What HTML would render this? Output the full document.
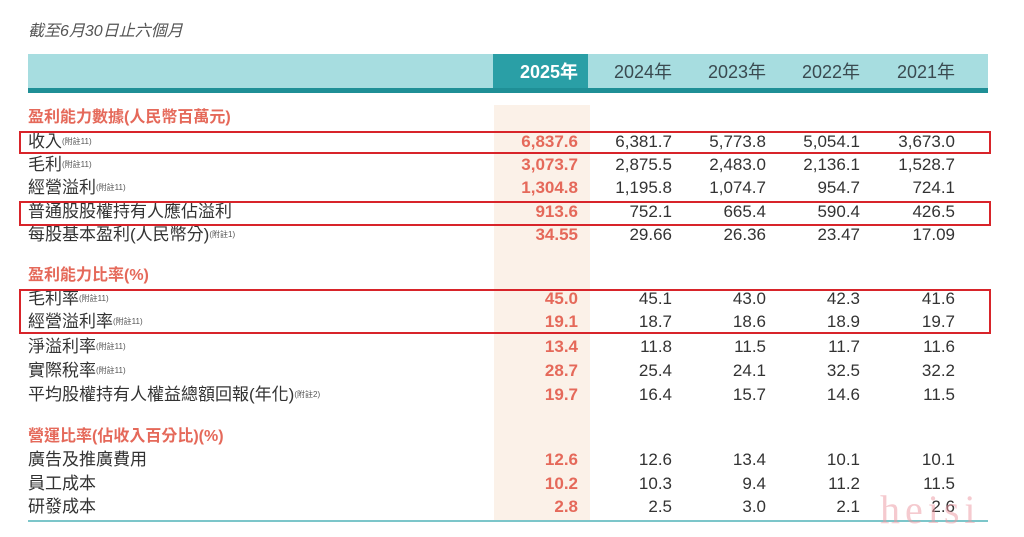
<!DOCTYPE html>
<html><head><meta charset="utf-8"><style>
body{margin:0;width:1024px;height:537px;background:#fff;position:relative;overflow:hidden;font-family:"Liberation Sans","Noto Sans CJK TC",sans-serif;color:#333}
div,span{position:absolute}
.t{font-size:17px;white-space:nowrap;line-height:20px}
.sup{font-size:8px;vertical-align:top;position:relative;color:#555}
.sec{color:#e5695a;font-weight:bold;font-size:16px;line-height:20px;white-space:nowrap}
.n{font-size:17px;width:100px;text-align:right;line-height:20px}
.h{color:#e5695a;font-weight:bold}
.box{border:2px solid #d8242a;box-sizing:border-box}
</style></head><body>
<div class="t" style="left:28px;top:22px;font-style:italic;color:#555;font-size:16px">截至6月30日止六個月</div>
<div style="left:28px;top:54px;width:960px;height:36px;background:#a7dde0"></div>
<div style="left:493px;top:54px;width:95px;height:36px;background:#2a9fa6"></div>
<div style="left:28px;top:88px;width:960px;height:5px;background:#1f8f96"></div>
<div style="left:494px;top:105px;width:96px;height:417px;background:#fbf1e8"></div>
<div style="left:28px;top:520px;width:960px;height:2px;background:#7cc6ca"></div>
<div id="tbl"></div>
<div class="box" style="left:19px;top:131px;width:972px;height:23px"></div>
<div class="box" style="left:19px;top:201px;width:972px;height:25px"></div>
<div class="box" style="left:19px;top:289px;width:972px;height:45px"></div>
<div style="left:880px;top:486px;font-family:'Liberation Serif',serif;font-size:40px;color:rgba(235,150,160,0.5);letter-spacing:5px">heisi</div>
<script>
const years=["2025年","2024年","2023年","2022年","2021年"];
const colRight=[578,672,766,860,955];
const rows=[
["sec","盈利能力數據(人民幣百萬元)",118],
["row","收入","附註11",142,["6,837.6","6,381.7","5,773.8","5,054.1","3,673.0"]],
["row","毛利","附註11",165,["3,073.7","2,875.5","2,483.0","2,136.1","1,528.7"]],
["row","經營溢利","附註11",188,["1,304.8","1,195.8","1,074.7","954.7","724.1"]],
["row","普通股股權持有人應佔溢利","",212,["913.6","752.1","665.4","590.4","426.5"]],
["row","每股基本盈利(人民幣分)","附註1",235,["34.55","29.66","26.36","23.47","17.09"]],
["sec","盈利能力比率(%)",276],
["row","毛利率","附註11",299,["45.0","45.1","43.0","42.3","41.6"]],
["row","經營溢利率","附註11",322,["19.1","18.7","18.6","18.9","19.7"]],
["row","淨溢利率","附註11",347,["13.4","11.8","11.5","11.7","11.6"]],
["row","實際稅率","附註11",371,["28.7","25.4","24.1","32.5","32.2"]],
["row","平均股權持有人權益總額回報(年化)","附註2",395,["19.7","16.4","15.7","14.6","11.5"]],
["sec","營運比率(佔收入百分比)(%)",437],
["row","廣告及推廣費用","",460,["12.6","12.6","13.4","10.1","10.1"]],
["row","員工成本","",484,["10.2","10.3","9.4","11.2","11.5"]],
["row","研發成本","",507,["2.8","2.5","3.0","2.1","2.6"]]
];
const T=document.getElementById('tbl');
years.forEach((y,i)=>{const d=document.createElement('div');


d.className='n';d.style.left=(colRight[i]-100)+'px';d.style.top='62px';d.style.fontSize='18px';
if(i==0){d.style.color='#fff';d.style.fontWeight='bold';}else d.style.color='#3a4a50';
d.textContent=y;T.appendChild(d);});
rows.forEach(r=>{
 if(r[0]=="sec"){const d=document.createElement('div');
  
  
  d.className='sec';d.style.left='28px';d.style.top=(r[2]-10)+'px';d.textContent=r[1];T.appendChild(d);return;}
 const l=document.createElement('div');
 
 
 l.className='t';l.style.left='28px';l.style.top=(r[3]-10)+'px';
 l.innerHTML=r[1]+(r[2]?'<span class="sup" style="position:relative">('+r[2]+')</span>':'');T.appendChild(l);
 r[4].forEach((v,i)=>{const d=document.createElement('div');
  
  
  d.className='n'+(i==0?' h':'');d.style.left=(colRight[i]-100)+'px';d.style.top=(r[3]-10)+'px';d.textContent=v;T.appendChild(d);});
});
</script>
</body></html>
